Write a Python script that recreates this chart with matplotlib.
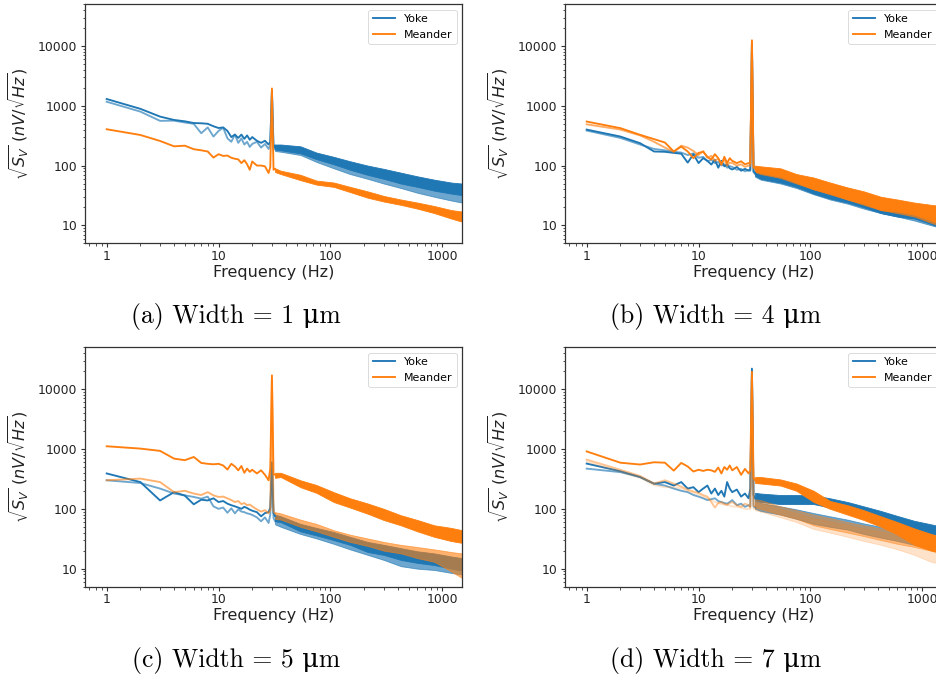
import matplotlib
matplotlib.use("Agg")
import matplotlib.pyplot as plt
from matplotlib.ticker import NullFormatter

# ---------------- data ----------------
LOW_F = [1, 2, 3, 4, 5, 6, 7, 8, 9, 10, 11, 12, 13, 14, 15, 16, 17, 18, 19, 20,
         22, 24, 26, 28, 29, 30, 31, 32]
BAND_F = [32, 36, 54, 75, 107, 150, 215, 300, 427, 600, 850, 1200, 1500]

X_TICKS = [1, 10, 100, 1000]
X_TICKLABELS = ["1", "10", "100", "1000"]
Y_TICKS = [10, 100, 1000, 10000]
Y_TICKLABELS = ["10", "100", "1000", "10000"]
CAPTIONS = ["(a) Width = 1 μm", "(b) Width = 4 μm",
            "(c) Width = 5 μm", "(d) Width = 7 μm"]
LEGEND_LABELS = ["Yoke", "Meander"]

# panel (a)
a_yoke1 = [1300, 890, 660, 580, 550, 515, 510, 500, 455, 425, 435, 380, 300, 330, 290, 330, 280, 320, 270, 300,
           260, 240, 260, 225, 250, 1800, 200, 215]
a_yoke1_lo = [185, 180, 160, 128, 105, 85, 70, 60, 50, 44, 38, 34, 32]
a_yoke1_hi = [225, 225, 210, 165, 140, 118, 100, 88, 76, 66, 58, 52, 50]
a_yoke2 = [1170, 800, 560, 565, 525, 500, 348, 435, 306, 380, 430, 286, 250, 330, 240, 285, 225, 250, 205, 230,
           250, 200, 230, 190, 220, 1700, 185, 200]
a_yoke2_lo = [175, 170, 150, 115, 90, 72, 60, 50, 42, 35, 30, 26, 24]
a_yoke2_hi = [215, 215, 195, 150, 125, 105, 90, 76, 65, 55, 48, 42, 40]
a_mea1 = [405, 325, 258, 210, 215, 188, 180, 172, 136, 155, 145, 147, 135, 130, 127, 110, 123, 105, 85, 117,
          100, 100, 97, 75, 95, 1950, 85, 88]
a_mea1_lo = [78, 72, 57, 48, 44, 36, 29, 25, 22, 19, 16, 13, 11.5]
a_mea1_hi = [90, 82, 70, 56, 52, 44, 37, 31, 27, 24, 21, 18, 17]

# panel (b)
b_yoke1 = [400, 306, 237, 172, 170, 163, 158, 112, 155, 110, 133, 120, 104, 125, 92, 120, 97, 105, 90, 86,
           95, 82, 88, 82, 85, 11000, 80, 75]
b_yoke1_lo = [68, 60, 52, 44, 34, 28, 24, 20, 16, 14, 13, 10.5, 9]
b_yoke1_hi = [82, 75, 65, 58, 52, 42, 34, 29, 25, 22, 19, 16.5, 16]
b_yoke2 = [385, 290, 225, 190, 180, 170, 165, 150, 160, 135, 140, 118, 125, 110, 115, 100, 105, 92, 98, 95,
           85, 88, 80, 85, 82, 10500, 78, 72]
b_yoke2_lo = [65, 58, 50, 42, 33, 27, 23, 19, 16, 14, 12, 10, 9]
b_yoke2_hi = [80, 74, 64, 56, 50, 40, 33, 28, 24, 21, 18, 16, 15]
b_mea1 = [545, 423, 327, 277, 243, 172, 208, 172, 133, 163, 170, 140, 126, 155, 133, 103, 140, 110, 133, 120,
          110, 118, 105, 110, 108, 12500, 95, 92]
b_mea1_lo = [80, 75, 65, 52, 40, 34, 27, 23, 18, 17, 15, 12, 10]
b_mea1_hi = [100, 97, 90, 72, 63, 52, 43, 37, 30, 27, 24, 22, 21]
b_mea2 = [490, 400, 320, 250, 200, 170, 215, 200, 175, 150, 175, 135, 145, 120, 130, 110, 125, 100, 112, 110,
          100, 105, 95, 100, 98, 12000, 90, 88]
b_mea2_lo = [78, 72, 62, 50, 40, 33, 27, 22, 18, 16, 14, 11, 9.6]
b_mea2_hi = [96, 92, 85, 70, 60, 50, 42, 35, 29, 26, 23, 21, 20]

# panel (c)
c_yoke1 = [390, 280, 138, 190, 166, 119, 142, 138, 150, 130, 135, 122, 115, 110, 105, 100, 108, 103, 97, 93,
           88, 75, 85, 88, 105, 600, 85, 75]
c_yoke1_lo = [62, 60, 42, 36, 30, 25, 19, 17, 14, 12.5, 11.5, 10, 9.3]
c_yoke1_hi = [80, 75, 56, 48, 41, 34, 28, 25, 22, 19.5, 18, 16, 15]
c_yoke2 = [300, 270, 218, 180, 168, 158, 148, 160, 110, 100, 105, 86, 102, 84, 98, 90, 88, 84, 82, 79,
           72, 62, 72, 58, 80, 550, 70, 62]
c_yoke2_lo = [55, 50, 38, 32, 26, 21, 17, 14, 11, 10, 9.5, 8.5, 8]
c_yoke2_hi = [75, 72, 50, 44, 37, 30, 25, 21, 17, 15.5, 15, 13.5, 13]
c_mea1 = [1110, 1015, 930, 690, 650, 735, 585, 565, 555, 565, 530, 453, 565, 510, 440, 520, 400, 470, 415, 450,
          390, 440, 370, 300, 470, 17000, 380, 370]
c_mea1_lo = [330, 340, 230, 185, 130, 105, 83, 65, 53, 42, 34, 29, 27]
c_mea1_hi = [400, 400, 300, 250, 190, 150, 123, 100, 78, 65, 53, 48, 44]
c_mea2 = [300, 320, 280, 190, 200, 180, 170, 190, 168, 158, 160, 150, 140, 130, 135, 120, 125, 115, 118, 110,
          98, 90, 95, 84, 95, 15000, 90, 84]
c_mea2_lo = [68, 66, 50, 42, 34, 28, 24, 20, 18, 15, 13, 9, 7]
c_mea2_hi = [88, 84, 66, 56, 44, 37, 32, 28, 25, 23, 21, 19, 18]

# panel (d)
d_yoke1 = [570, 425, 340, 263, 280, 245, 280, 218, 230, 190, 218, 245, 180, 218, 170, 200, 160, 280, 218, 190,
           210, 160, 180, 150, 218, 22000, 170, 150]
d_yoke1_lo = [140, 130, 120, 120, 120, 105, 92, 78, 62, 52, 43, 38, 35]
d_yoke1_hi = [185, 180, 170, 170, 168, 150, 130, 110, 92, 76, 63, 55, 50]
d_yoke2 = [470, 410, 340, 263, 245, 218, 200, 190, 170, 160, 150, 140, 145, 150, 135, 130, 125, 122, 130, 140,
           115, 122, 108, 115, 110, 20000, 110, 105]
d_yoke2_lo = [100, 92, 80, 68, 56, 50, 45, 38, 33, 29, 25, 22, 21]
d_yoke2_hi = [140, 125, 110, 98, 85, 75, 66, 57, 50, 43, 37, 33, 31]
d_mea1 = [910, 590, 550, 600, 590, 435, 585, 510, 420, 450, 430, 450, 440, 415, 490, 390, 500, 450, 530, 440,
          500, 370, 465, 390, 440, 19500, 330, 300]
d_mea1_lo = [270, 265, 245, 200, 130, 100, 80, 65, 50, 37, 25, 20, 18]
d_mea1_hi = [340, 340, 310, 265, 200, 135, 115, 95, 75, 60, 47, 38, 34]
d_mea2 = [665, 450, 355, 265, 300, 265, 235, 210, 195, 185, 170, 160, 130, 105, 125, 130, 120, 115, 125, 130,
          115, 108, 122, 115, 105, 17000, 115, 110]
d_mea2_lo = [105, 100, 80, 68, 53, 46, 40, 35, 30, 26, 23, 20, 19]
d_mea2_hi = [145, 140, 110, 95, 80, 70, 60, 53, 47, 41, 36, 32, 30]
d_mea3 = [620, 420, 330, 250, 230, 230, 220, 200, 185, 175, 160, 150, 140, 130, 125, 120, 118, 120, 112, 110,
          108, 105, 100, 100, 98, 15000, 100, 100]
d_mea3_lo = [95, 90, 72, 60, 46, 40, 34, 29, 25, 21, 17, 13, 12]
d_mea3_hi = [130, 125, 100, 85, 70, 62, 54, 47, 42, 36, 30, 26, 25]

# ---------------- styling ----------------
BLUE = "#1f77b4"
ORANGE = "#ff7f0e"
LW = 1.35
SPINE = "#333333"
TXT = "#222222"

PANELS = [
    [(a_yoke1, a_yoke1_lo, a_yoke1_hi, BLUE, 1.0, True),
     (a_yoke2, a_yoke2_lo, a_yoke2_hi, BLUE, 0.65, False),
     (a_mea1, a_mea1_lo, a_mea1_hi, ORANGE, 1.0, True)],
    [(b_yoke1, b_yoke1_lo, b_yoke1_hi, BLUE, 1.0, True),
     (b_yoke2, b_yoke2_lo, b_yoke2_hi, BLUE, 0.65, False),
     (b_mea1, b_mea1_lo, b_mea1_hi, ORANGE, 1.0, True),
     (b_mea2, b_mea2_lo, b_mea2_hi, ORANGE, 0.65, False)],
    [(c_yoke1, c_yoke1_lo, c_yoke1_hi, BLUE, 1.0, True),
     (c_yoke2, c_yoke2_lo, c_yoke2_hi, BLUE, 0.65, False),
     (c_mea1, c_mea1_lo, c_mea1_hi, ORANGE, 1.0, True),
     (c_mea2, c_mea2_lo, c_mea2_hi, ORANGE, 0.6, False)],
    [(d_yoke1, d_yoke1_lo, d_yoke1_hi, BLUE, 1.0, True),
     (d_yoke2, d_yoke2_lo, d_yoke2_hi, BLUE, 0.65, False),
     (d_mea1, d_mea1_lo, d_mea1_hi, ORANGE, 1.0, True),
     (d_mea2, d_mea2_lo, d_mea2_hi, ORANGE, 0.45, False),
     (d_mea3, d_mea3_lo, d_mea3_hi, ORANGE, 0.22, False)],
]

W, H = 936.0, 682.0
AX_RECTS = [
    (85, 4.3, 377, 239),
    (565, 4.3, 377, 239),
    (85, 347.3, 377, 239.4),
    (565, 347.3, 377, 239.4),
]
CAP_POS = [(236, 317), (716, 317), (236, 661), (716, 661)]

fig = plt.figure(figsize=(W / 100, H / 100), dpi=100)

for i, series in enumerate(PANELS):
    x0, y0, w, h = AX_RECTS[i]
    ax = fig.add_axes([x0 / W, 1 - (y0 + h) / H, w / W, h / H])
    for j, (low, lo, hi, col, alpha, lab) in enumerate(series):
        label = None
        if lab:
            label = LEGEND_LABELS[0] if col == BLUE else LEGEND_LABELS[1]
        ax.plot(LOW_F, low, color=col, alpha=alpha, lw=LW, label=label)
        ax.fill_between(BAND_F, lo, hi, color=col, alpha=alpha, lw=0.6,
                        edgecolor=col)
    ax.set_xscale("log")
    ax.set_yscale("log")
    ax.set_xlim(0.64, 1500)
    ax.set_ylim(5, 50000)
    ax.set_xticks(X_TICKS)
    ax.set_xticklabels(X_TICKLABELS)
    ax.set_yticks(Y_TICKS)
    ax.set_yticklabels(Y_TICKLABELS)
    ax.xaxis.set_minor_formatter(NullFormatter())
    ax.yaxis.set_minor_formatter(NullFormatter())
    ax.tick_params(which="major", labelsize=8.9, length=3.2, width=0.8,
                   colors=SPINE, labelcolor=TXT)
    ax.tick_params(axis="x", which="major", pad=1.3)
    ax.tick_params(axis="y", which="major", pad=2.6)
    ax.tick_params(which="minor", length=1.8, width=0.6, colors=SPINE)
    for s in ax.spines.values():
        s.set_color(SPINE)
        s.set_linewidth(0.9)
    ax.set_xlabel("Frequency (Hz)", fontsize=11.5, color=TXT, labelpad=1.5)
    ax.set_ylabel(r"$\sqrt{S_V}$ $(nV/\sqrt{Hz})$", fontsize=11.5,
                  color=TXT, labelpad=5)
    leg = ax.legend(loc="upper right", fontsize=7.9, framealpha=0.8,
                    borderaxespad=0.5)
    leg.get_frame().set_linewidth(0.6)

    cx, cy = CAP_POS[i]
    fig.text(cx / W, 1 - cy / H, CAPTIONS[i], ha="center", va="center",
             fontsize=18.5, family=["cmr10", "DejaVu Serif"], color="black")

fig.savefig("out.png", dpi=100)
